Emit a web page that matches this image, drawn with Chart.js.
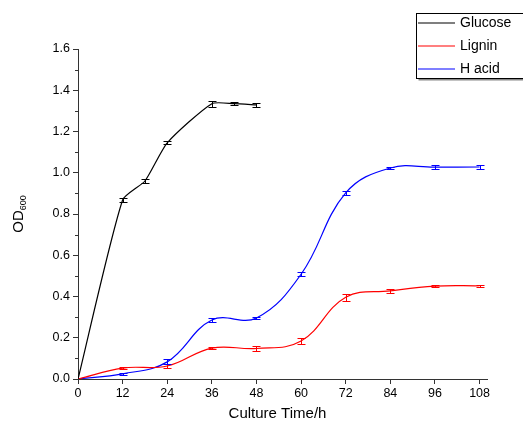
<!DOCTYPE html>
<html>
<head>
<meta charset="utf-8">
<script src="https://cdn.jsdelivr.net/npm/chart.js@4/dist/chart.umd.min.js"></script>
<style>
  html, body { margin: 0; padding: 0; background: #fff; }
  #wrap { width: 523px; height: 428px; position: relative; }
</style>
</head>
<body>
<div id="wrap"><canvas id="myChart"></canvas></div>
<script>
// data
var glucoseTime = [0, 12, 18, 24, 36, 42, 48];
var glucoseOD = [0, 0.868, 0.96, 1.145, 1.335, 1.335, 1.329];
var glucoseErr = [0, 0.01, 0.01, 0.008, 0.014, 0.006, 0.01];

var time = [0, 12, 24, 36, 48, 60, 72, 84, 96, 108];
var ligninOD = [0, 0.053, 0.063, 0.15, 0.148, 0.184, 0.396, 0.427, 0.45, 0.452];
var ligninErr = [0, 0.005, 0.01, 0.006, 0.01, 0.013, 0.018, 0.01, 0.006, 0.004];
var hacidOD = [0, 0.025, 0.083, 0.286, 0.296, 0.508, 0.902, 1.023, 1.027, 1.028];
var hacidErr = [0, 0.006, 0.012, 0.012, 0.006, 0.01, 0.008, 0.006, 0.01, 0.008];

var xTicks = [0, 12, 24, 36, 48, 60, 72, 84, 96, 108];
var yTicks = [0, 0.2, 0.4, 0.6, 0.8, 1.0, 1.2, 1.4, 1.6];

function pts(xs, ys) {
  var out = [];
  for (var i = 0; i < xs.length; i++) out.push({x: xs[i], y: ys[i]});
  return out;
}

var FONT = "'Liberation Sans', Arial, sans-serif";

var errorBars = {
  id: 'errorBars',
  afterDatasetsDraw: function(chart) {
    var ctx = chart.ctx, xs = chart.scales.x, ys = chart.scales.y;
    chart.data.datasets.forEach(function(ds) {
      ctx.save();
      ctx.strokeStyle = ds.borderColor;
      ctx.lineWidth = 1;
      ds.data.forEach(function(p, i) {
        var e = ds.err[i];
        if (!e) return;
        var x = Math.round(xs.getPixelForValue(p.x)) + 0.5;
        var y1 = Math.round(ys.getPixelForValue(p.y + e)) + 0.5;
        var y2 = Math.round(ys.getPixelForValue(p.y - e)) + 0.5;
        ctx.beginPath();
        ctx.moveTo(x, y1); ctx.lineTo(x, y2);
        ctx.moveTo(x - 4, y1); ctx.lineTo(x + 4, y1);
        ctx.moveTo(x - 4, y2); ctx.lineTo(x + 4, y2);
        ctx.stroke();
      });
      ctx.restore();
    });
  }
};

var decorations = {
  id: 'decorations',
  afterDraw: function(chart) {
    var ctx = chart.ctx, area = chart.chartArea, ys = chart.scales.y;
    ctx.save();
    // minor y ticks
    ctx.strokeStyle = '#333';
    ctx.lineWidth = 1;
    for (var i = 0; i < yTicks.length - 1; i++) {
      var y = Math.round(ys.getPixelForValue((yTicks[i] + yTicks[i + 1]) / 2)) + 0.5;
      ctx.beginPath();
      ctx.moveTo(area.left - 3, y); ctx.lineTo(area.left, y);
      ctx.stroke();
    }
    // x title
    ctx.fillStyle = '#000';
    ctx.font = '15px ' + FONT;
    ctx.textAlign = 'center';
    ctx.textBaseline = 'middle';
    ctx.fillText('Culture Time/h', (area.left + area.right) / 2 - 5, 414);
    // y title with subscript
    ctx.translate(19, (area.top + area.bottom) / 2);
    ctx.rotate(-Math.PI / 2);
    ctx.font = '15px ' + FONT;
    var w1 = ctx.measureText('OD').width;
    ctx.font = '9px ' + FONT;
    var w2 = ctx.measureText('600').width;
    var sx = -(w1 + w2) / 2;
    ctx.textAlign = 'left';
    ctx.font = '15px ' + FONT;
    ctx.fillText('OD', sx, 0);
    ctx.font = '9px ' + FONT;
    ctx.fillText('600', sx + w1, 5);
    ctx.restore();

    // legend box
    ctx.save();
    var bx = 416.5, by = 13.5, bw = 120, bh = 65;
    ctx.fillStyle = '#888';
    ctx.fillRect(bx + 2, by + bh, bw, 2);
    ctx.fillStyle = '#fff';
    ctx.fillRect(bx, by, bw, bh);
    ctx.strokeStyle = '#000';
    ctx.lineWidth = 1;
    ctx.strokeRect(bx, by, bw, bh);
    ctx.font = '14px ' + FONT;
    ctx.textAlign = 'left';
    ctx.textBaseline = 'middle';
    chart.data.datasets.forEach(function(ds, i) {
      var ly = 23 + i * 23;
      ctx.strokeStyle = ds.borderColor;
      ctx.lineWidth = 1.2;
      ctx.beginPath();
      ctx.moveTo(418, ly); ctx.lineTo(455, ly);
      ctx.stroke();
      ctx.fillStyle = '#000';
      ctx.fillText(ds.label, 460, ly);
    });
    ctx.restore();
  }
};

new Chart('myChart', {
  type: 'line',
  data: {
    datasets: [
      {label: 'Glucose', data: pts(glucoseTime, glucoseOD), err: glucoseErr, borderColor: '#000000', tension: 0.2},
      {label: 'Lignin', data: pts(time, ligninOD), err: ligninErr, borderColor: '#ff0000'},
      {label: 'H acid', data: pts(time, hacidOD), err: hacidErr, borderColor: '#0000ff'}
    ]
  },
  options: {
    responsive: true,
    maintainAspectRatio: false,
    animation: false,
    layout: {padding: {top: 49, right: 36, left: 0, bottom: 0}},
    elements: {
      line: {borderWidth: 1.2, tension: 0.4, fill: false},
      point: {radius: 0, hoverRadius: 0}
    },
    plugins: {legend: {display: false}, tooltip: {enabled: false}},
    scales: {
      x: {
        type: 'linear',
        min: 0, max: 110,
        afterBuildTicks: function(scale) {
          scale.ticks = xTicks.map(function(v) { return {value: v}; });
        },
        afterFit: function(scale) { scale.height = 49; },
        grid: {display: true, drawOnChartArea: false, drawTicks: true, tickLength: 5, tickColor: '#333', tickWidth: 1},
        border: {display: true, color: '#333', width: 1},
        ticks: {color: '#000', font: {family: FONT, size: 12.5}, padding: 2, maxRotation: 0,
                callback: function(v) { return v; }}
      },
      y: {
        min: 0, max: 1.6,
        afterBuildTicks: function(scale) {
          scale.ticks = yTicks.map(function(v) { return {value: v}; });
        },
        afterFit: function(scale) { scale.width = 78; },
        grid: {display: true, drawOnChartArea: false, drawTicks: true, tickLength: 5, tickColor: '#333', tickWidth: 1},
        border: {display: true, color: '#333', width: 1},
        ticks: {color: '#000', font: {family: FONT, size: 12.5}, padding: 3,
                callback: function(v) { return Number(v).toFixed(1); }}
      }
    }
  },
  plugins: [errorBars, decorations]
});
</script>
</body>
</html>
